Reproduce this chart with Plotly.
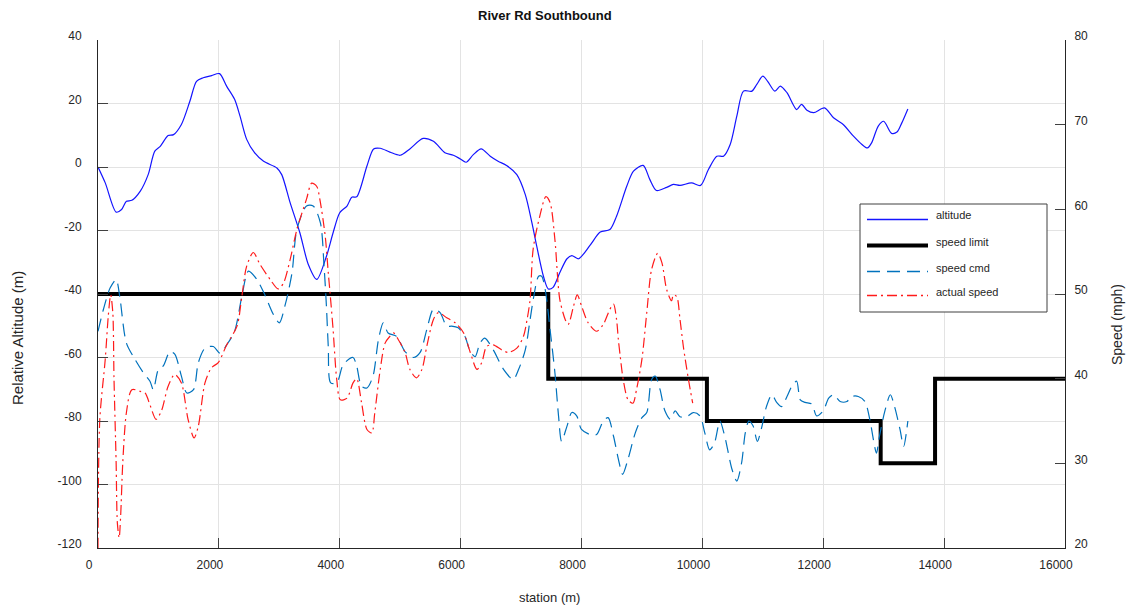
import plotly.graph_objects as go

# ---- altitude profile (station in m, relative altitude in m) ----
alt_station = [0, 120, 300, 390, 470, 560, 700, 830, 940, 1030, 1160, 1250, 1380,
               1520, 1630, 1740, 1880, 2010, 2130, 2260, 2350, 2460, 2590, 2740,
               2960, 3040, 3180, 3340, 3480, 3620, 3780, 3890, 4000, 4120, 4200,
               4280, 4450, 4560, 4670, 4830, 5000, 5160, 5380, 5550, 5740, 5880,
               5990, 6090, 6210, 6340, 6490, 6620, 6760, 6930, 7070, 7180, 7260,
               7370, 7450, 7530, 7640, 7760, 7840, 7950, 8140, 8310, 8470, 8580,
               8750, 8860, 9020, 9130, 9240, 9410, 9520, 9630, 9820, 9970, 10100,
               10240, 10350, 10460, 10570, 10680, 10820, 10900, 11000, 11080,
               11200, 11290, 11400, 11560, 11640, 11730, 11840, 12020, 12170,
               12330, 12500, 12640, 12730, 12800, 12910, 13000, 13130, 13220,
               13300, 13400]
alt_m = [0, -5, -14.2, -13.4, -10.8, -10.5, -7.6, -2.4, 5, 6.5, 9.9, 10.2, 13.4,
         20.7, 27, 28.1, 28.8, 29.4, 25.4, 21.3, 16, 8.7, 4.5, 1.8,
         -0.3, -2.4, -11.3, -20.7, -30.7, -35.4, -28.1, -20.7, -14.4, -12.3, -9.5,
         -9.4, 0.3, 5.7, 5.9, 4.7, 3.7, 5.7, 9, 8.1, 4.5, 3.7,
         2.6, 1.5, 3.9, 5.7, 3.4, 1.8, 0.5, -2.4, -8.7, -17.6, -25,
         -34.4, -38.4, -37.9, -33.3, -28.9, -27.9, -28.9, -24.7, -20.5, -19.7, -15.5,
         -6, -1.3, 0.5, -3.9, -7.4, -6.4, -5.5, -5.8, -5, -5.8, -0.8,
         3.4, 3.4, 7.1, 16, 23.9, 23.9, 26, 28.6, 27,
         23.9, 25.5, 23.4, 18.1, 19.7, 17.9, 17.1, 18.6, 15.5,
         13.4, 9.7, 7.1, 6, 7.6, 12.9, 14.4, 10.6, 11,
         13.9, 18.3]

# ---- posted speed limit (mph), piecewise constant from each station ----
limit_station = [0, 7450, 10075, 12950, 13850, 16000]
limit_mph = [50, 40, 35, 30, 40, 40]

# ---- commanded speed (mph) ----
cmd_station = [0, 90, 200, 300, 360, 470, 610, 750, 860, 915, 1000, 1080, 1190,
               1270, 1380, 1470, 1580, 1660, 1770, 1910, 2020, 2130, 2260, 2380,
               2490, 2630, 2760, 2900, 3000, 3100, 3210, 3290, 3450, 3560, 3680,
               3740, 3780, 3810, 3850, 3950, 4060, 4220, 4280, 4360, 4450, 4550,
               4640, 4720, 4800, 4940, 5080, 5220, 5330, 5440, 5550, 5660, 5770,
               5850, 5960, 6070, 6160, 6240, 6320, 6400, 6540, 6710, 6870, 6960,
               7070, 7150, 7210, 7290, 7340, 7400, 7480, 7560, 7620, 7670, 7760,
               7840, 7920, 8000, 8140, 8250, 8360, 8440, 8530, 8610, 8680, 8770,
               8890, 9000, 9080, 9160, 9220, 9300, 9380, 9470, 9550, 9630, 9740,
               9850, 9960, 10040, 10120, 10200, 10290, 10370, 10490, 10570, 10650,
               10710, 10770, 10840, 10910, 10980, 11060, 11150, 11230, 11310,
               11400, 11480, 11560, 11620, 11700, 11810, 11890, 12000, 12090,
               12170, 12280, 12390, 12470, 12580, 12690, 12770, 12830, 12880,
               12930, 13020, 13110, 13180, 13270, 13330, 13400]
cmd_mph = [45.6, 48.2, 50.7, 51.7, 49.7, 44.2, 42.3, 40.7, 39.7, 38.7, 41.1, 41.5, 43.2,
           42.9, 40.3, 38.3, 38.7, 41.9, 43.6, 43.8, 43.0, 44.0, 45.6, 49.7,
           52.7, 51.7, 49.9, 47.6, 46.6, 48.8, 52.5, 57.6, 60.4, 60.4, 58.4,
           53.3, 48.5, 43.8, 39.5, 39.5, 41.7, 42.5, 41.5, 39.1, 38.9, 40.3,
           44.6, 46.6, 45.4, 45.0, 43.2, 42.5, 43.1, 45.8, 48.2, 47.8, 46.2,
           46.2, 46.0, 45.0, 43.2, 42.6, 44.2, 44.8, 43.4, 41.1, 39.9, 41.1,
           43.4, 47.0, 49.7, 52.1, 52.1, 50.5, 45.8, 40.7, 35.6, 32.6, 34.4,
           36.0, 35.6, 34.0, 33.4, 33.4, 35.0, 35.4, 33.2, 30.5, 28.7, 30.5,
           33.6, 35.4, 36.0, 39.9, 40.3, 38.7, 36.2, 35.2, 36.2, 35.5, 35.5,
           36.0, 35.6, 33.6, 31.6, 32.4, 35.0, 33.2, 29.3, 27.9, 30.1,
           33.6, 35.0, 34.4, 32.6, 34.2, 36.7, 38.1, 37.2, 36.7,
           37.9, 39.1, 39.7, 37.5, 37.2, 37.0, 35.6, 36.2, 37.7,
           38.1, 37.3, 37.3, 37.9, 37.9, 37.3, 35.2, 32.8, 31.2,
           33.2, 36.2, 38.1, 36.7, 34.0, 32.0, 35.0]

# ---- measured vehicle speed (mph) ----
act_station = [0, 30, 120, 170, 210, 245, 265, 300, 320, 350, 375, 410, 470, 560,
               700, 780, 860, 960, 1050, 1160, 1270, 1380, 1490, 1590, 1660, 1770,
               1880, 1990, 2130, 2300, 2380, 2460, 2570, 2680, 2850, 2980, 3070,
               3180, 3290, 3450, 3535, 3620, 3670, 3760, 3810, 3840, 3890, 3950,
               4010, 4120, 4220, 4280, 4360, 4450, 4530, 4580, 4670, 4750, 4830,
               4890, 4970, 5080, 5160, 5270, 5360, 5440, 5550, 5630, 5770, 5910,
               6050, 6160, 6270, 6350, 6430, 6540, 6680, 6790, 6930, 7040, 7100,
               7150, 7200, 7310, 7410, 7480, 7560, 7640, 7730, 7780, 7870, 7930,
               8000, 8110, 8250, 8360, 8470, 8530, 8580, 8610, 8640, 8690, 8770,
               8850, 8910, 9000, 9080, 9160, 9260, 9330, 9410, 9490, 9520, 9575,
               9630, 9685, 9770, 9840]
act_mph = [20, 35.2, 42.3, 47.4, 49.9, 47.8, 39.9, 30.1, 23.0, 21.2, 23.8, 30.1, 36.0, 38.7,
           38.5, 38.3, 36.9, 35.2, 36.2, 39.1, 40.5, 39.5, 35.2, 33.0, 34.4, 39.5,
           41.3, 41.9, 44.0, 46.2, 49.7, 53.3, 54.9, 53.5, 51.7, 50.6, 51.3,
           54.1, 57.6, 61.2, 63.1, 62.7, 61.2, 56.8, 52.5, 50.1, 45.8, 39.9,
           37.5, 37.7, 39.5, 40.0, 37.2, 34.0, 33.6, 36.0, 41.1, 44.2, 45.0,
           45.4, 44.6, 43.1, 41.1, 40.1, 41.1, 43.8, 47.0, 47.8, 47.2, 46.6,
           45.4, 43.1, 41.1, 41.9, 43.8, 44.0, 43.4, 43.1, 43.6, 45.0, 47.0,
           49.4, 55.3, 59.2, 61.5, 60.8, 56.4, 49.4, 47.0, 46.4, 48.6, 49.9,
           48.6, 46.6, 45.6, 46.4, 48.2, 48.8, 47.0, 44.6, 42.7, 39.9, 37.5,
           37.1, 38.7, 42.3, 47.8, 52.9, 54.8, 53.7, 50.5, 49.2, 49.9, 49.7,
           47.0, 43.8, 39.9, 37.1]

x_ticks = [0, 2000, 4000, 6000, 8000, 10000, 12000, 14000, 16000]
alt_ticks = [-120, -100, -80, -60, -40, -20, 0, 20, 40]
speed_ticks = [20, 30, 40, 50, 60, 70, 80]

# ---- styles ----
ALT_COLOR = "#1414ff"
LIMIT_COLOR = "#000000"
CMD_COLOR = "#0072bd"
ACT_COLOR = "#ff1a1a"
CMD_DASH = "13px,7px"
ACT_DASH = "10px,4px,2px,4px"
TEXT_COLOR = "#262626"
FONT = "Liberation Sans, Arial, sans-serif"

W, H = 1130, 609
ML, MR, MT, MB = 98, 65, 40, 61
PW, PH = W - ML - MR, H - MT - MB


def px(x):
    return (x - ML) / PW


def py(y):
    return (H - MB - y) / PH


fig = go.Figure()

fig.add_trace(go.Scatter(x=alt_station, y=alt_m, name="altitude", mode="lines",
                         line=dict(color=ALT_COLOR, width=1.2, shape="spline", smoothing=0.8),
                         yaxis="y"))
fig.add_trace(go.Scatter(x=limit_station, y=limit_mph, name="speed limit", mode="lines",
                         line=dict(color=LIMIT_COLOR, width=4, shape="hv"),
                         yaxis="y2"))
fig.add_trace(go.Scatter(x=cmd_station, y=cmd_mph, name="speed cmd", mode="lines",
                         line=dict(color=CMD_COLOR, width=1.2, dash=CMD_DASH,
                                   shape="spline", smoothing=0.8),
                         yaxis="y2"))
fig.add_trace(go.Scatter(x=act_station, y=act_mph, name="actual speed", mode="lines",
                         line=dict(color=ACT_COLOR, width=1.2, dash=ACT_DASH,
                                   shape="spline", smoothing=0.8),
                         yaxis="y2"))

# ---- hand-placed legend box ----
shapes = [dict(type="rect", xref="paper", yref="paper",
               x0=px(860), x1=px(1047), y0=py(312), y1=py(204),
               line=dict(color="#404040", width=1), fillcolor="white", layer="above")]
legend_rows = [
    ("altitude", ALT_COLOR, 1.3, "solid", 219.5, 215),
    ("speed limit", LIMIT_COLOR, 4, "solid", 245.5, 242.5),
    ("speed cmd", CMD_COLOR, 1.3, CMD_DASH, 271.5, 267.5),
    ("actual speed", ACT_COLOR, 1.3, ACT_DASH, 295.5, 292),
]
annotations = []
for label, color, width, dash, yline, ytext in legend_rows:
    shapes.append(dict(type="line", xref="paper", yref="paper",
                       x0=px(867), x1=px(928), y0=py(yline), y1=py(yline),
                       line=dict(color=color, width=width, dash=dash), layer="above"))
    annotations.append(dict(text=label, xref="paper", yref="paper",
                            x=px(934), y=py(ytext), xanchor="left", yanchor="middle",
                            showarrow=False, font=dict(size=11, color=TEXT_COLOR)))

# ---- titles ----
annotations += [
    dict(text="<b>River Rd Southbound</b>", xref="paper", yref="paper",
         x=px(545), y=py(15), xanchor="center", yanchor="middle", showarrow=False,
         font=dict(size=13, color="#111111")),
    dict(text="station (m)", xref="paper", yref="paper",
         x=px(549), y=py(597), xanchor="center", yanchor="middle", showarrow=False,
         font=dict(size=13, color=TEXT_COLOR)),
    dict(text="Relative Altitude (m)", xref="paper", yref="paper",
         x=px(17), y=py(338), xanchor="center", yanchor="middle", showarrow=False,
         textangle=-90, font=dict(size=15, color=TEXT_COLOR)),
    dict(text="Speed (mph)", xref="paper", yref="paper",
         x=px(1117), y=py(325), xanchor="center", yanchor="middle", showarrow=False,
         textangle=-90, font=dict(size=14, color=TEXT_COLOR)),
]

axis_common = dict(showline=True, linecolor="#262626", linewidth=1,
                   ticks="inside", ticklen=10, tickcolor="#404040", tickwidth=1,
                   tickfont=dict(size=12, color=TEXT_COLOR), zeroline=False)

fig.update_layout(
    width=W, height=H,
    margin=dict(l=ML, r=MR, t=MT, b=MB, pad=0),
    paper_bgcolor="white", plot_bgcolor="white",
    font=dict(family=FONT, color=TEXT_COLOR),
    showlegend=False,
    xaxis=dict(range=[0, 16000], tickvals=x_ticks, ticktext=[str(v) for v in x_ticks],
               showgrid=True, gridcolor="#e3e3e3", gridwidth=1,
               ticklabelshift=-9, ticklabelstandoff=6, **axis_common),
    yaxis=dict(range=[-120, 40], tickvals=alt_ticks, ticktext=[str(v) for v in alt_ticks],
               showgrid=True, gridcolor="#e3e3e3", gridwidth=1,
               ticklabelshift=-4, ticklabelstandoff=13, **axis_common),
    yaxis2=dict(range=[20, 80], tickvals=speed_ticks, ticktext=[str(v) for v in speed_ticks],
                overlaying="y", side="right", showgrid=False,
                ticklabelshift=-4, ticklabelstandoff=6, **axis_common),
    shapes=shapes,
    annotations=annotations,
)

fig.write_html("out.html")
